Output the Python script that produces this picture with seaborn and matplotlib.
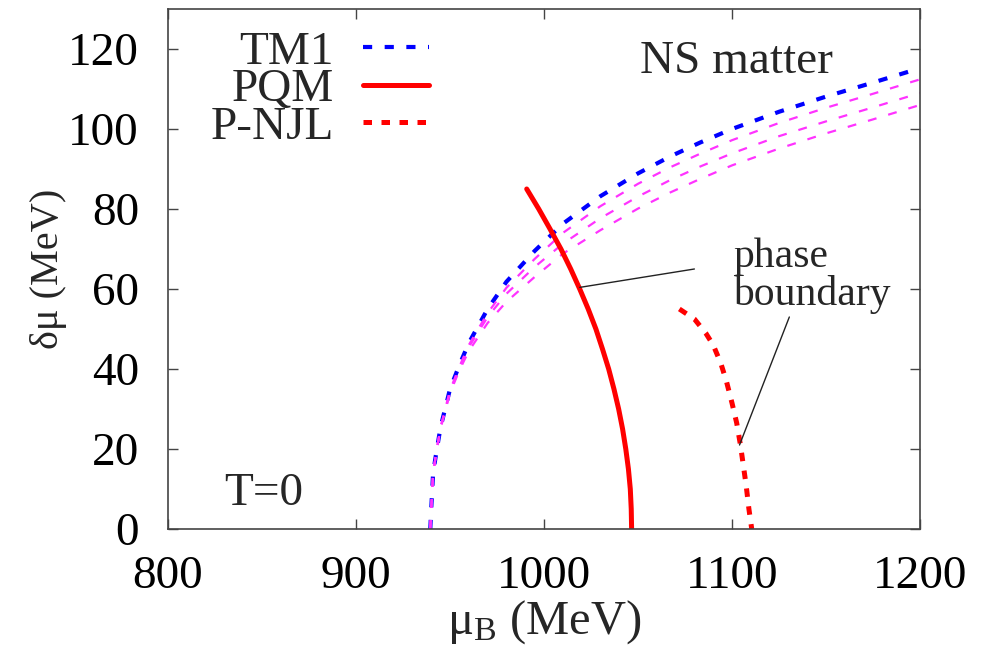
import matplotlib
matplotlib.use("Agg")
import matplotlib.pyplot as plt
import seaborn as sns

# TM1 hadronic branch (blue) and its three variants (magenta)
tm1_mu = [939.5, 940, 941, 943, 945, 950, 955, 960, 970, 980, 995, 1010,
          1030, 1050, 1067, 1083, 1100, 1125, 1150, 1175, 1200]
tm1_dmu = [0, 5, 14, 20, 25.5, 35, 41, 46.5, 55, 61.8, 69.5, 76.3,
           83.2, 88.9, 93.1, 96.6, 100, 104.3, 108.1, 111.6, 115.2]
var1_dmu = [0, 5, 14, 20, 25.5, 34.7, 40.6, 46, 54, 60.3, 67.5, 74,
            80.7, 86.3, 90.4, 93.8, 97.2, 101.5, 105.3, 108.8, 112.4]
var2_dmu = [0, 5, 14, 20, 25.3, 34.4, 40.2, 45.5, 53, 58.8, 65.5, 71.3,
            77.7, 83.1, 87.2, 90.6, 93.9, 98.2, 101.9, 105.4, 109]
var3_dmu = [0, 5, 14, 20, 25.2, 34, 39.7, 44.5, 51.5, 56.8, 63, 68.8,
            74.7, 80.1, 84.1, 87.5, 90.9, 95.1, 98.9, 102.4, 106]

# PQM phase boundary
pqm_mu = [990.8, 997.2, 1003.2, 1009.0, 1014.2, 1019.0, 1023.5, 1027.6,
          1031.1, 1034.4, 1037.2, 1039.7, 1041.8, 1043.5, 1044.9, 1045.9,
          1046.4, 1046.6]
pqm_dmu = [85, 80, 75, 70, 65, 60, 55, 50, 45, 40, 35, 30, 25, 20, 15, 10,
           5, 0]

# P-NJL phase boundary
pnjl_mu = [1072, 1080, 1086, 1090, 1094, 1097, 1100, 1102.5, 1104.5,
           1106, 1107.5, 1109, 1110.5]
pnjl_dmu = [55, 52.5, 49, 46, 41.5, 37, 31.5, 26.5, 21, 16, 11, 5, 0]

x_ticks = [800, 900, 1000, 1100, 1200]
y_ticks = [0, 20, 40, 60, 80, 100, 120]

sns.set_theme(style="ticks")
plt.rcParams["font.family"] = ["Liberation Serif", "DejaVu Serif"]
plt.rcParams["mathtext.fontset"] = "custom"
plt.rcParams["mathtext.rm"] = "Liberation Serif"
plt.rcParams["mathtext.it"] = "Liberation Serif:italic"

FS = 34
fig = plt.figure(figsize=(9.92, 6.51), dpi=100)
ax = fig.add_axes([0.1694, 0.1874, 0.758, 0.7988])

blue_ls = (0, (2.2, 3.0))
mag_ls = (0, (4.0, 5.5))
red_dot = (0, (1.7, 1.9))

sns.lineplot(x=tm1_mu, y=tm1_dmu, sort=False, estimator=None, ax=ax,
             color="#0000ff", linewidth=3.0, linestyle=blue_ls, label="TM1")
for vals in (var1_dmu, var2_dmu, var3_dmu):
    sns.lineplot(x=tm1_mu, y=vals, sort=False, estimator=None, ax=ax,
                 color="#ff33ff", linewidth=1.6, linestyle=mag_ls)
sns.lineplot(x=pqm_mu, y=pqm_dmu, sort=False, estimator=None, ax=ax,
             color="#ff0000", linewidth=3.6, label="PQM")
sns.lineplot(x=pnjl_mu, y=pnjl_dmu, sort=False, estimator=None, ax=ax,
             color="#ff0000", linewidth=3.6, linestyle=red_dot, label="P-NJL")

ax.set_xlim(800, 1200)
ax.set_ylim(0, 130)
ax.set_xticks(x_ticks)
ax.set_yticks(y_ticks)
ax.tick_params(direction="in", length=7, width=1.0, color="#444444",
               top=True, right=True, labelsize=FS, labelcolor="black")
ax.tick_params(axis="x", pad=19)
ax.tick_params(axis="y", pad=21)
for s in ax.spines.values():
    s.set_color("#444444")
    s.set_linewidth(1.2)

ax.set_xlabel("μ$_{\\rm B}$ (MeV)", fontsize=35, labelpad=0)
ax.set_ylabel("δμ (MeV)", fontsize=29, labelpad=1)

handles, labels = ax.get_legend_handles_labels()
leg = ax.legend(handles, labels, loc="upper right",
                bbox_to_anchor=(0.347, 0.958), frameon=False,
                markerfirst=False, fontsize=FS, handlelength=1.4,
                handletextpad=0.62, labelspacing=-0.12,
                borderpad=0, borderaxespad=0)

ax.text(1051, 114, "NS matter", fontsize=FS, ha="left", va="baseline")
ax.text(830, 6, "T=0", fontsize=FS, ha="left", va="baseline")
ax.text(1100.5, 56, "phase\nboundary", fontsize=30, ha="left",
        va="baseline", linespacing=0.95)

# leader lines from the label to each boundary
ax.annotate("", xy=(1019, 60.4), xytext=(1080, 65),
            arrowprops=dict(arrowstyle="-", color="#222222", lw=1.0,
                            shrinkA=0, shrinkB=0))
ax.annotate("", xy=(1104, 21), xytext=(1130.5, 53),
            arrowprops=dict(arrowstyle="-", color="#222222", lw=1.0,
                            shrinkA=0, shrinkB=0))

fig.savefig("out.png", dpi=100)
